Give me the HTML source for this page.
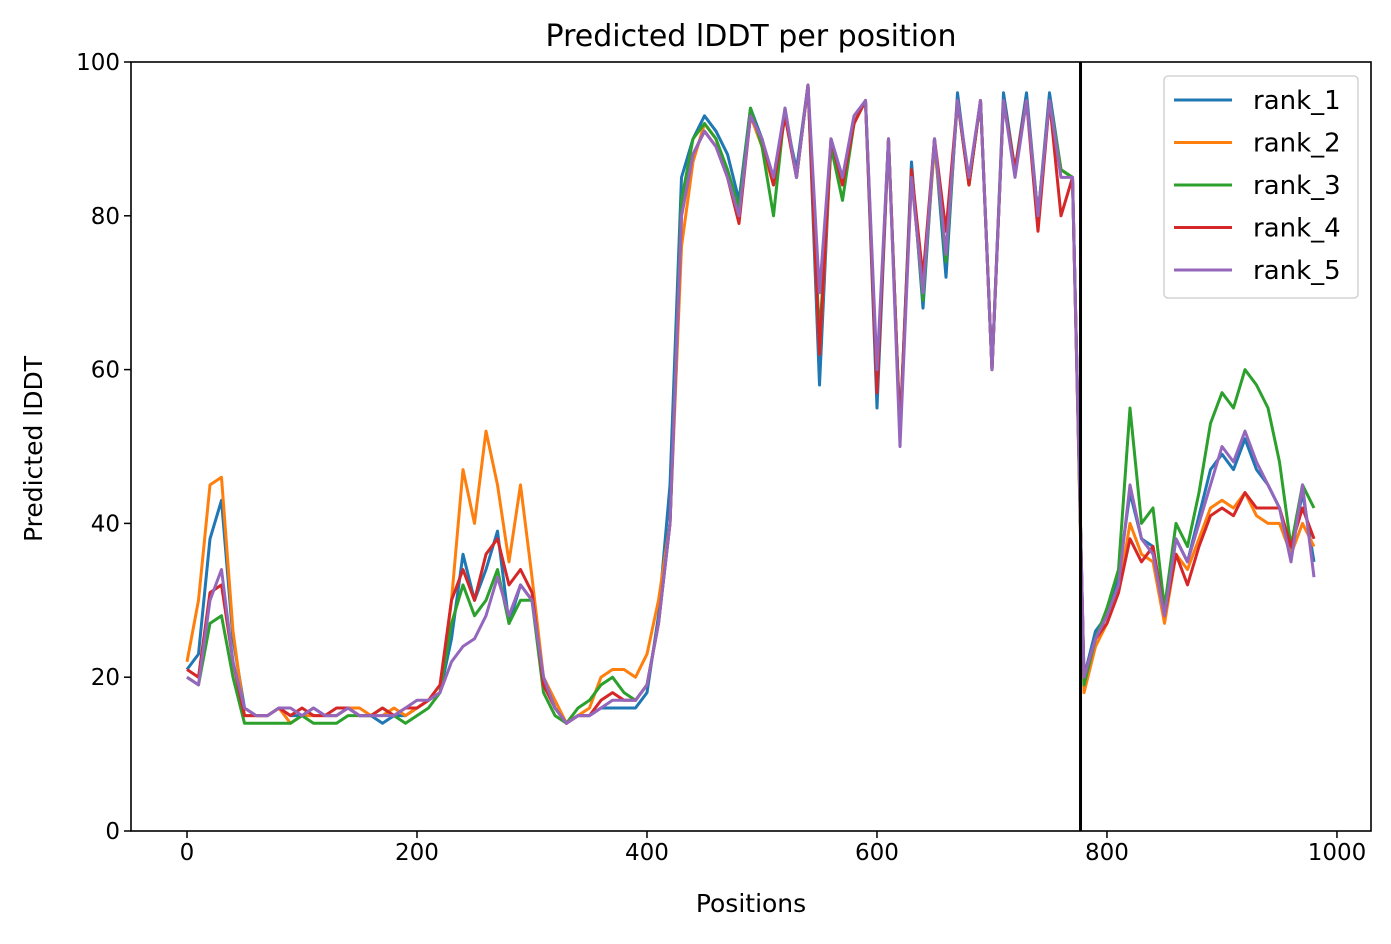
<!DOCTYPE html>
<html><head><meta charset="utf-8"><style>
body{margin:0;background:#fff;}
svg text{font-family:"DejaVu Sans","Liberation Sans",sans-serif;fill:#000;}
</style></head><body>
<svg id="chart" width="1391" height="939" xmlns="http://www.w3.org/2000/svg">
<rect width="1391" height="939" fill="#fff"/>
<text x="751" y="46" font-size="30" text-anchor="middle">Predicted lDDT per position</text>
<g id="series"></g>
<g id="axes"></g>
<text x="751" y="912" font-size="25" text-anchor="middle">Positions</text>
<text transform="translate(42,449) rotate(-90)" font-size="25" text-anchor="middle">Predicted lDDT</text>
<g id="legend"></g>
</svg>
<script>
const positions=[0,10,20,30,40,50,60,70,80,90,100,110,120,130,140,150,160,170,180,190,200,210,220,230,240,250,260,270,280,290,300,310,320,330,340,350,360,370,380,390,400,410,420,430,440,450,460,470,480,490,500,510,520,530,540,550,560,570,580,590,600,610,620,630,640,650,660,670,680,690,700,710,720,730,740,750,760,770,780,790,800,810,820,830,840,850,860,870,880,890,900,910,920,930,940,950,960,970,980];
const rank1=[21,23,38,43,25,16,15,15,16,15,15,16,15,15,16,15,15,14,15,15,16,17,18,25,36,30,34,39,27,32,30,20,16,14,15,15,16,16,16,16,18,28,45,85,90,93,91,88,82,94,90,84,93,86,97,58,90,85,92,95,55,90,52,87,68,90,72,96,84,95,60,96,86,96,80,96,86,85,20,26,28,33,44,38,37,28,38,35,41,47,49,47,51,47,45,42,36,44,35];
const rank2=[22,30,45,46,26,15,15,15,16,14,15,15,15,15,16,16,15,15,16,15,16,17,18,30,47,40,52,45,35,45,33,20,17,14,15,16,20,21,21,20,23,30,40,76,87,92,90,85,80,93,89,84,93,85,97,62,89,84,92,95,58,90,52,85,70,89,75,95,84,95,60,95,86,95,80,95,86,85,18,24,27,31,40,36,35,27,36,34,38,42,43,42,44,41,40,40,36,40,37];
const rank3=[20,19,27,28,20,14,14,14,14,14,15,14,14,14,15,15,15,16,15,14,15,16,18,27,32,28,30,34,27,30,30,18,15,14,16,17,19,20,18,17,19,27,40,82,90,92,90,86,81,94,89,80,94,85,97,64,89,82,92,95,58,90,52,86,69,90,74,95,84,95,60,95,86,95,80,95,86,85,19,25,29,34,55,40,42,29,40,37,44,53,57,55,60,58,55,48,37,45,42];
const rank4=[21,20,31,32,22,15,15,15,16,15,16,15,15,16,16,15,15,16,15,16,16,17,19,30,34,30,36,38,32,34,31,19,16,14,15,15,17,18,17,17,19,27,40,80,88,91,89,85,79,93,90,84,93,85,97,62,90,84,92,95,57,90,52,86,72,90,78,95,84,95,60,95,86,95,78,95,80,85,20,25,27,31,38,35,37,28,36,32,37,41,42,41,44,42,42,42,37,42,38];
const rank5=[20,19,30,34,22,16,15,15,16,16,15,16,15,15,16,15,15,15,15,16,17,17,18,22,24,25,28,33,28,32,30,20,16,14,15,15,16,17,17,17,19,27,40,80,88,91,89,85,80,93,90,85,94,85,97,70,90,85,93,95,60,90,50,85,70,90,75,95,85,95,60,95,85,95,80,95,85,85,20,25,28,32,45,38,36,28,38,35,40,45,50,48,52,48,45,42,35,45,33];
const seriesNames=["rank_1","rank_2","rank_3","rank_4","rank_5"];
const seriesColors=["#1f77b4","#ff7f0e","#2ca02c","#d62728","#9467bd"];
const xTicks=[0,200,400,600,800,1000];
const yTicks=[0,20,40,60,80,100];
const chainBreak=777;

const X0=131,X1=1371,Y0=62,Y1=831;
const xMin=-48.7,xMax=1029.6,yMin=0,yMax=100;
const xs=v=>X0+(v-xMin)/(xMax-xMin)*(X1-X0);
const ys=v=>Y1-(v-yMin)/(yMax-yMin)*(Y1-Y0);
const NS="http://www.w3.org/2000/svg";
function mk(t,a){const e=document.createElementNS(NS,t);for(const k in a)e.setAttribute(k,a[k]);return e;}

const sg=document.getElementById('series');
[rank1,rank2,rank3,rank4,rank5].forEach((arr,i)=>{
  const d=arr.map((v,j)=>(j?'L':'M')+xs(positions[j]).toFixed(1)+' '+ys(v).toFixed(1)).join(' ');
  const p=mk('path',{d:d,fill:'none',stroke:seriesColors[i],'stroke-width':3,'stroke-linejoin':'round'});
  
  
  sg.appendChild(p);
});
const vl=mk('line',{x1:xs(chainBreak),x2:xs(chainBreak),y1:Y0,y2:Y1,stroke:'#000','stroke-width':3});


sg.appendChild(vl);

const ag=document.getElementById('axes');
const fr=mk('rect',{x:X0,y:Y0,width:X1-X0,height:Y1-Y0,fill:'none',stroke:'#000','stroke-width':1.6});


ag.appendChild(fr);
xTicks.forEach(t=>{
  const x=xs(t);
  ag.appendChild(mk('line',{x1:x,x2:x,y1:Y1,y2:Y1+7,stroke:'#000','stroke-width':1.5}));
  const tx=mk('text',{x:x,y:Y1+29,'font-size':23,'text-anchor':'middle'});
  tx.textContent=t;
  
  
  ag.appendChild(tx);
});
yTicks.forEach(t=>{
  const y=ys(t);
  ag.appendChild(mk('line',{x1:X0-7,x2:X0,y1:y,y2:y,stroke:'#000','stroke-width':1.5}));
  const tx=mk('text',{x:X0-11,y:y+8,'font-size':23,'text-anchor':'end'});
  tx.textContent=t;
  
  
  ag.appendChild(tx);
});

const lg=document.getElementById('legend');
const lb=mk('rect',{x:1164,y:76,width:194,height:222,rx:4,fill:'#fff','fill-opacity':0.85,stroke:'#ccc','stroke-width':1.3});


lg.appendChild(lb);
seriesNames.forEach((n,i)=>{
  const y=100+i*42.5;
  const ln=mk('line',{x1:1174,x2:1232,y1:y,y2:y,stroke:seriesColors[i],'stroke-width':3});
  
  
  lg.appendChild(ln);
  const tx=mk('text',{x:1253,y:y+9,'font-size':26});
  tx.textContent=n;
  
  
  lg.appendChild(tx);
});
</script>
</body></html>
